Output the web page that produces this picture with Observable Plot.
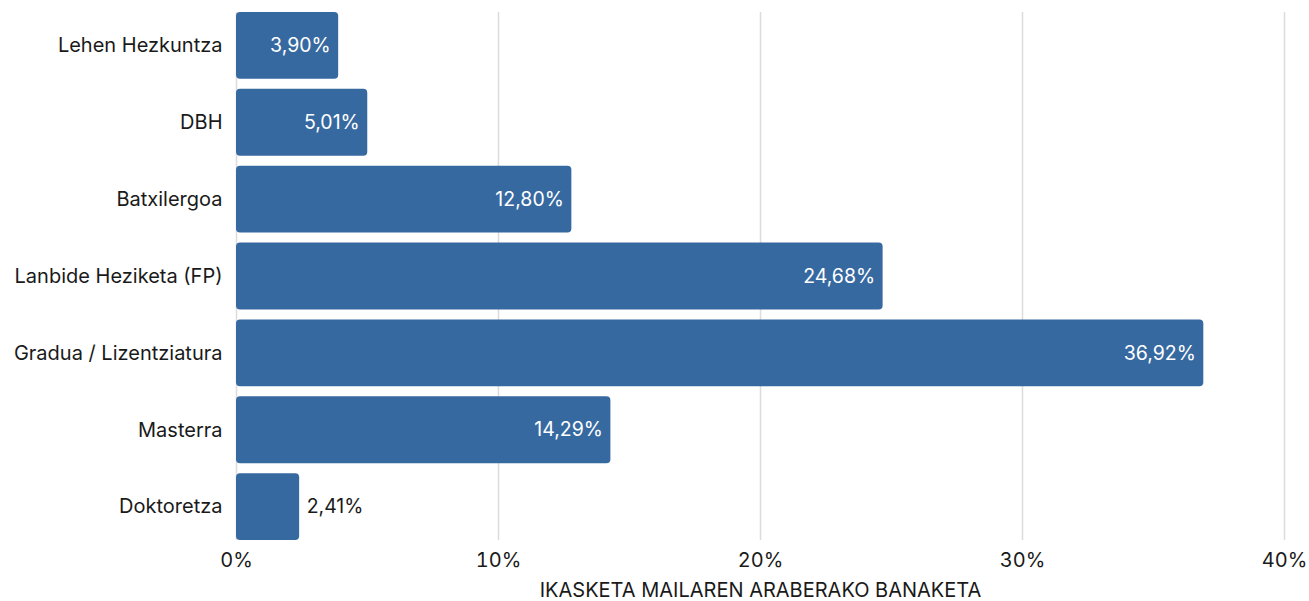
<!DOCTYPE html>
<html>
<head>
<meta charset="utf-8">
<script src="https://cdn.jsdelivr.net/npm/d3@7"></script>
<script src="https://cdn.jsdelivr.net/npm/@observablehq/plot@0.6"></script>
<style>
  html, body { margin: 0; padding: 0; background: #fff; }
  #chart svg { display: block; }
</style>
</head>
<body>
<div id="chart"></div>
<script>
const categories = ["Lehen Hezkuntza", "DBH", "Batxilergoa", "Lanbide Heziketa (FP)", "Gradua / Lizentziatura", "Masterra", "Doktoretza"];
const values = [3.90, 5.01, 12.80, 24.68, 36.92, 14.29, 2.41];
const xTicks = [0, 10, 20, 30, 40];
const xLabel = "IKASKETA MAILAREN ARABERAKO BANAKETA";

const data = categories.map((c, i) => ({cat: c, value: values[i]}));
const fmt = v => d3.format(".2f")(v).replace(".", ",") + "%";
const insideThreshold = 3;

const chart = Plot.plot({
  width: 1309,
  height: 601,
  marginTop: 12,
  marginBottom: 61,
  marginLeft: 236,
  marginRight: 25,
  style: {fontFamily: "Inter, 'Noto Sans', sans-serif", fontSize: "20px", color: "#1a1a1a", background: "#fff"},
  x: {domain: [0, 40], ticks: xTicks, tickFormat: d => d + "%", label: xLabel, labelAnchor: "center", labelArrow: "none"},
  y: {domain: categories, paddingInner: 0.13, paddingOuter: 0, round: false, label: null},
  marks: [
    Plot.ruleX(xTicks, {stroke: "#dcdcdc", strokeWidth: 1.5}),
    Plot.axisX({ticks: xTicks, tickFormat: d => d + "%", tickSize: 0, tickPadding: 12, fontSize: 20, label: xLabel, labelAnchor: "center", labelArrow: "none", labelOffset: 56}),
    Plot.axisY({tickSize: 0, tickPadding: 14, fontSize: 20, label: null}),
    Plot.barX(data, {x: "value", y: "cat", fill: "#3769a1", rx: 4}),
    Plot.text(data.filter(d => d.value >= insideThreshold), {x: "value", y: "cat", text: d => fmt(d.value), textAnchor: "end", dx: -8, fill: "white", fontSize: 19.5}),
    Plot.text(data.filter(d => d.value < insideThreshold), {x: "value", y: "cat", text: d => fmt(d.value), textAnchor: "start", dx: 7, fill: "#1a1a1a", fontSize: 19.5})
  ]
});
document.getElementById("chart").appendChild(chart);
</script>
</body>
</html>
